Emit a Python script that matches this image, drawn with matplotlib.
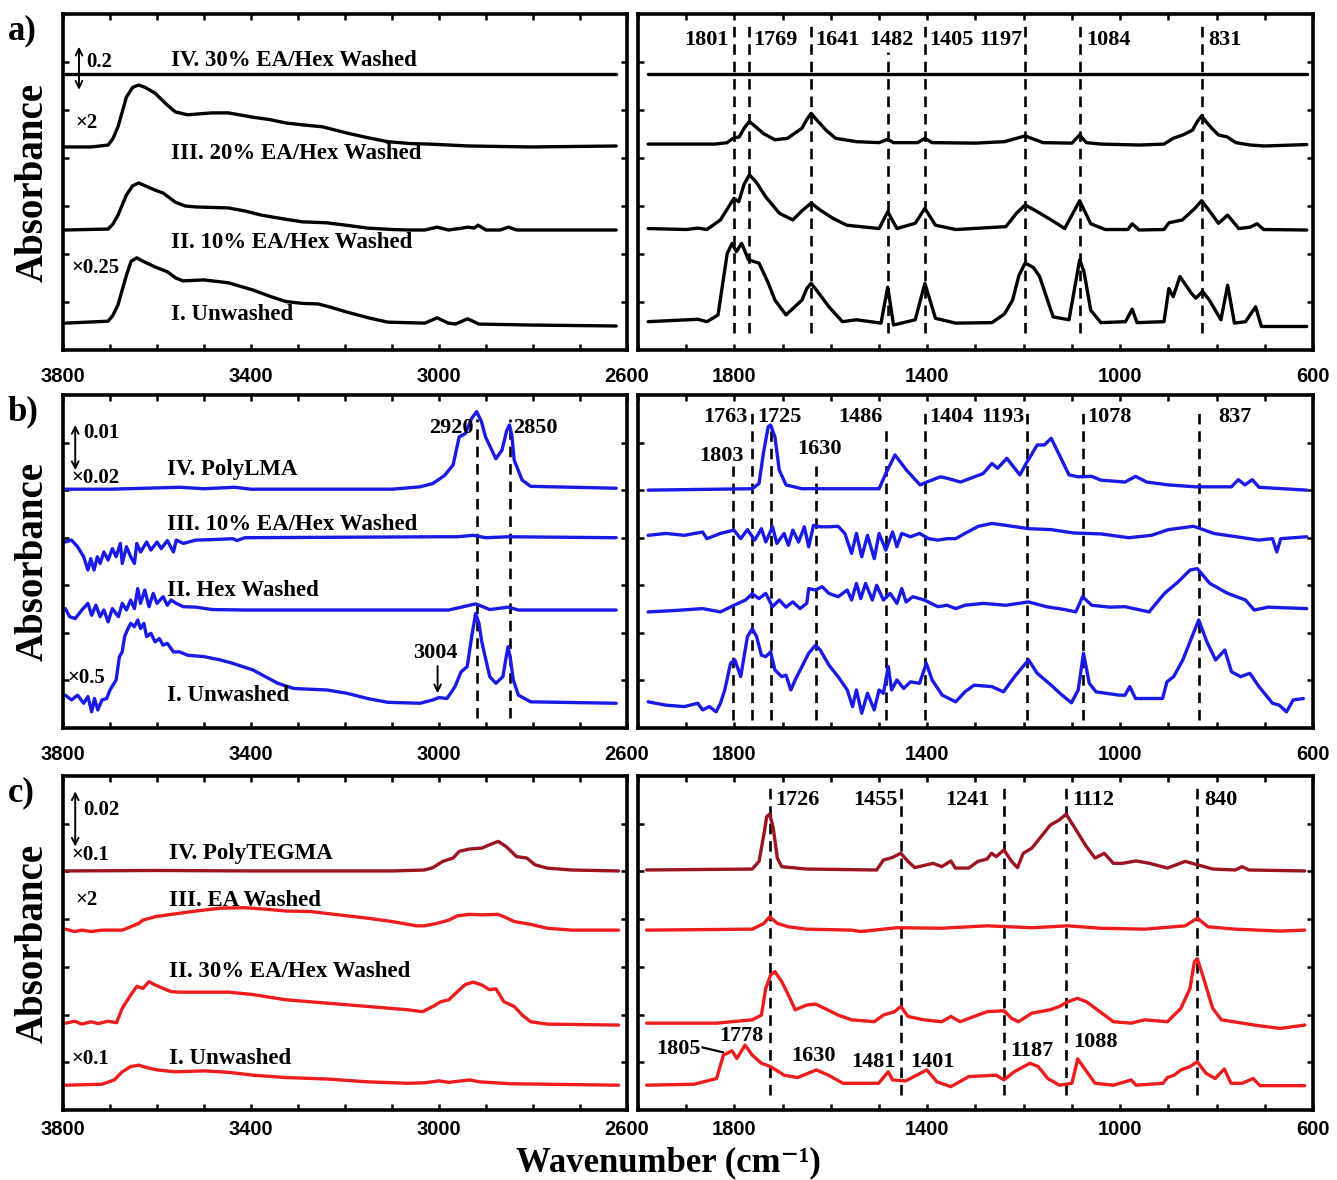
import matplotlib
matplotlib.use("Agg")
import matplotlib.pyplot as plt

plt.rcParams["font.family"] = ["Liberation Serif", "DejaVu Serif"]
plt.rcParams["font.weight"] = "bold"

BLUE = "#1a1ae6"
RED = "#ee1c1c"
DARK_RED = "#9c1420"

# ---------------- data: (wavenumber, stacked absorbance) ----------------
# a) high wavenumber region
a_hi_IV = [(3795, 5.75), (2623, 5.75)]
a_hi_III = [(3795, 4.23), (3740, 4.23), (3704, 4.27), (3694, 4.40), (3683, 4.65), (3665, 5.27), (3652, 5.47),
            (3639, 5.52), (3625, 5.47), (3604, 5.35), (3580, 5.12), (3561, 4.96), (3535, 4.90), (3483, 4.94),
            (3448, 4.94), (3396, 4.85), (3360, 4.80), (3326, 4.73), (3290, 4.69), (3248, 4.65), (3196, 4.52),
            (3150, 4.42), (3109, 4.34), (3060, 4.30), (3022, 4.29), (2935, 4.25), (2804, 4.23), (2623, 4.25)]
a_hi_II = [(3795, 2.50), (3704, 2.52), (3694, 2.62), (3683, 2.81), (3665, 3.23), (3652, 3.42), (3639, 3.48),
           (3625, 3.42), (3604, 3.33), (3587, 3.27), (3561, 3.08), (3540, 3.00), (3517, 2.98), (3448, 2.96),
           (3410, 2.89), (3378, 2.81), (3330, 2.73), (3291, 2.67), (3239, 2.65), (3190, 2.59), (3152, 2.54),
           (3100, 2.51), (3065, 2.50), (3030, 2.50), (3004, 2.56), (2980, 2.50), (2950, 2.54), (2939, 2.56),
           (2925, 2.54), (2917, 2.60), (2900, 2.50), (2870, 2.50), (2852, 2.56), (2835, 2.50), (2623, 2.50)]
a_hi_I = [(3795, 0.56), (3704, 0.60), (3694, 0.72), (3683, 0.94), (3665, 1.56), (3655, 1.85), (3643, 1.92),
          (3630, 1.85), (3604, 1.73), (3578, 1.63), (3560, 1.50), (3545, 1.44), (3500, 1.46), (3448, 1.40),
          (3396, 1.25), (3360, 1.12), (3326, 1.01), (3290, 0.97), (3257, 0.96), (3230, 0.89), (3196, 0.79),
          (3150, 0.67), (3109, 0.58), (3030, 0.56), (3004, 0.67), (2980, 0.56), (2965, 0.54), (2939, 0.65),
          (2915, 0.54), (2804, 0.52), (2623, 0.50)]

# a) low wavenumber region
a_lo_IV = [(1979, 5.75), (613, 5.75)]
a_lo_III = [(1979, 4.29), (1840, 4.29), (1815, 4.32), (1803, 4.41), (1790, 4.44), (1780, 4.62), (1769, 4.76),
            (1757, 4.66), (1740, 4.51), (1716, 4.38), (1690, 4.41), (1660, 4.62), (1650, 4.80), (1641, 4.93),
            (1630, 4.80), (1610, 4.58), (1590, 4.41), (1547, 4.34), (1500, 4.32), (1482, 4.39), (1470, 4.32),
            (1420, 4.32), (1405, 4.41), (1390, 4.32), (1300, 4.31), (1240, 4.34), (1197, 4.46), (1160, 4.32),
            (1100, 4.31), (1084, 4.48), (1070, 4.32), (1040, 4.29), (960, 4.27), (909, 4.29), (890, 4.41),
            (870, 4.48), (850, 4.58), (840, 4.76), (831, 4.88), (822, 4.76), (810, 4.62), (796, 4.48),
            (778, 4.44), (760, 4.32), (730, 4.27), (700, 4.25), (613, 4.28)]
a_lo_II = [(1979, 2.53), (1900, 2.51), (1876, 2.54), (1857, 2.51), (1829, 2.71), (1801, 3.16), (1791, 3.09),
           (1780, 3.45), (1769, 3.65), (1755, 3.50), (1735, 3.19), (1707, 2.85), (1679, 2.71), (1660, 2.90),
           (1641, 3.06), (1620, 2.90), (1595, 2.74), (1567, 2.60), (1500, 2.53), (1482, 2.88), (1463, 2.53),
           (1425, 2.64), (1405, 2.95), (1383, 2.60), (1341, 2.51), (1237, 2.57), (1215, 2.85), (1197, 3.02),
           (1175, 2.90), (1143, 2.71), (1115, 2.53), (1084, 3.11), (1061, 2.63), (1031, 2.51), (984, 2.51),
           (975, 2.63), (961, 2.50), (909, 2.51), (899, 2.65), (871, 2.71), (845, 2.95), (831, 3.11),
           (815, 2.90), (796, 2.64), (777, 2.81), (754, 2.53), (730, 2.56), (716, 2.63), (702, 2.51),
           (613, 2.50)]
a_lo_I = [(1979, 0.59), (1876, 0.64), (1857, 0.59), (1834, 0.73), (1815, 2.01), (1805, 2.22), (1796, 2.05),
          (1785, 2.22), (1771, 1.88), (1749, 1.81), (1730, 1.40), (1716, 1.04), (1693, 0.73), (1660, 1.04),
          (1650, 1.28), (1641, 1.39), (1630, 1.25), (1604, 0.90), (1576, 0.59), (1547, 0.63), (1496, 0.56),
          (1482, 1.31), (1470, 0.52), (1425, 0.63), (1405, 1.39), (1383, 0.66), (1341, 0.56), (1266, 0.57),
          (1240, 0.75), (1223, 1.04), (1210, 1.55), (1197, 1.81), (1180, 1.72), (1167, 1.53), (1139, 0.69),
          (1106, 0.63), (1084, 1.88), (1075, 1.63), (1061, 0.83), (1040, 0.57), (989, 0.59), (975, 0.85),
          (965, 0.57), (909, 0.59), (899, 1.28), (890, 1.11), (876, 1.53), (852, 1.18), (843, 1.08),
          (829, 1.22), (815, 1.04), (791, 0.63), (777, 1.35), (763, 0.56), (740, 0.59), (719, 0.90),
          (707, 0.49), (613, 0.49)]

# b) high wavenumber region
b_hi_IV = [(3795, 5.02), (3700, 5.02), (3552, 5.06), (3500, 5.03), (3435, 5.06), (3400, 5.02), (3100, 5.02),
           (3040, 5.07), (3013, 5.14), (2988, 5.31), (2970, 5.53), (2957, 6.12), (2944, 6.19), (2931, 6.50),
           (2920, 6.65), (2910, 6.45), (2901, 6.12), (2879, 5.66), (2866, 5.84), (2856, 6.25), (2850, 6.37),
           (2845, 6.15), (2840, 5.63), (2823, 5.21), (2805, 5.08), (2623, 5.04)]
b_hi_III = [(3795, 3.91), (3782, 3.95), (3769, 3.81), (3756, 3.60), (3747, 3.32), (3741, 3.56), (3734, 3.32),
            (3727, 3.60), (3721, 3.46), (3713, 3.70), (3704, 3.53), (3695, 3.77), (3687, 3.60), (3678, 3.88),
            (3674, 3.46), (3665, 3.81), (3656, 3.60), (3648, 3.46), (3643, 3.88), (3635, 3.70), (3622, 3.91),
            (3613, 3.74), (3600, 3.91), (3591, 3.77), (3578, 3.94), (3565, 3.70), (3559, 3.95), (3544, 3.88),
            (3517, 3.95), (3483, 3.96), (3439, 3.98), (3430, 3.94), (3413, 4.00), (3000, 4.02), (2960, 4.02),
            (2927, 4.05), (2900, 4.00), (2853, 4.02), (2623, 4.00)]
b_hi_II = [(3795, 2.51), (3786, 2.34), (3774, 2.30), (3760, 2.48), (3747, 2.62), (3739, 2.37), (3730, 2.58),
           (3721, 2.34), (3713, 2.48), (3704, 2.23), (3695, 2.51), (3682, 2.34), (3674, 2.62), (3665, 2.48),
           (3656, 2.69), (3648, 2.51), (3641, 2.93), (3635, 2.62), (3626, 2.90), (3617, 2.55), (3608, 2.83),
           (3600, 2.62), (3587, 2.76), (3578, 2.58), (3570, 2.69), (3559, 2.62), (3544, 2.55), (3517, 2.54),
           (3483, 2.49), (3413, 2.48), (2979, 2.48), (2922, 2.61), (2892, 2.49), (2853, 2.54), (2831, 2.48),
           (2623, 2.48)]
b_hi_I = [(3795, 0.69), (3782, 0.59), (3769, 0.69), (3756, 0.52), (3747, 0.66), (3739, 0.34), (3733, 0.62),
          (3726, 0.38), (3717, 0.59), (3707, 0.62), (3700, 0.80), (3687, 1.01), (3680, 1.50), (3674, 1.60),
          (3669, 1.92), (3663, 2.06), (3656, 2.20), (3648, 2.13), (3641, 2.27), (3635, 2.09), (3628, 2.20),
          (3622, 1.92), (3613, 1.99), (3604, 1.81), (3595, 1.88), (3587, 1.74), (3578, 1.78), (3565, 1.60),
          (3552, 1.60), (3535, 1.53), (3500, 1.50), (3465, 1.43), (3439, 1.36), (3396, 1.22), (3343, 0.94),
          (3309, 0.83), (3239, 0.80), (3196, 0.73), (3152, 0.62), (3109, 0.54), (3040, 0.52), (3013, 0.59),
          (3000, 0.64), (2983, 0.62), (2966, 0.87), (2953, 1.18), (2940, 1.29), (2930, 1.95), (2922, 2.41),
          (2915, 2.20), (2909, 1.81), (2892, 1.08), (2879, 0.94), (2864, 1.08), (2857, 1.50), (2853, 1.71),
          (2848, 1.45), (2842, 1.01), (2831, 0.69), (2805, 0.55), (2623, 0.52)]

# b) low wavenumber region
b_lo_IV = [(1979, 5.00), (1763, 5.03), (1749, 5.14), (1740, 5.77), (1730, 6.33), (1725, 6.37), (1716, 6.12),
           (1707, 5.42), (1693, 5.11), (1660, 5.03), (1500, 5.03), (1486, 5.35), (1467, 5.74), (1443, 5.42),
           (1415, 5.11), (1401, 5.17), (1373, 5.28), (1359, 5.25), (1331, 5.17), (1284, 5.35), (1266, 5.56),
           (1254, 5.46), (1235, 5.67), (1208, 5.32), (1195, 5.56), (1172, 5.95), (1157, 5.95), (1143, 6.09),
           (1129, 5.80), (1106, 5.32), (1087, 5.28), (1059, 5.29), (1040, 5.21), (990, 5.17), (968, 5.29),
           (945, 5.17), (900, 5.11), (844, 5.07), (769, 5.07), (755, 5.22), (741, 5.11), (726, 5.22),
           (712, 5.06), (613, 5.00)]
b_lo_III = [(1979, 4.05), (1942, 4.09), (1904, 4.05), (1866, 4.12), (1857, 3.98), (1829, 4.09), (1801, 4.16),
            (1787, 3.98), (1773, 4.17), (1758, 3.95), (1744, 4.19), (1735, 3.91), (1721, 4.23), (1712, 3.88),
            (1697, 4.09), (1688, 3.84), (1679, 4.16), (1667, 3.91), (1655, 4.23), (1646, 3.81), (1636, 4.26),
            (1622, 4.23), (1604, 4.23), (1585, 4.24), (1571, 4.09), (1557, 3.67), (1547, 4.09), (1536, 3.60),
            (1524, 4.05), (1510, 3.56), (1500, 4.09), (1486, 3.74), (1472, 4.12), (1463, 3.81), (1453, 4.09),
            (1435, 4.02), (1416, 4.09), (1397, 3.98), (1378, 3.95), (1359, 3.98), (1341, 3.98), (1322, 4.09),
            (1294, 4.24), (1266, 4.30), (1237, 4.26), (1190, 4.19), (1143, 4.17), (1097, 4.10), (1040, 4.08),
            (982, 4.00), (935, 4.05), (900, 4.17), (848, 4.24), (825, 4.16), (806, 4.09), (759, 4.02),
            (712, 3.95), (684, 3.98), (675, 3.70), (667, 3.98), (613, 4.02)]
b_lo_II = [(1979, 2.44), (1923, 2.47), (1866, 2.51), (1829, 2.44), (1801, 2.58), (1777, 2.69), (1763, 2.82),
           (1749, 2.72), (1735, 2.83), (1721, 2.55), (1707, 2.69), (1693, 2.54), (1679, 2.65), (1664, 2.51),
           (1650, 2.62), (1646, 2.93), (1632, 2.90), (1618, 2.97), (1604, 2.83), (1585, 2.76), (1566, 2.90),
           (1557, 2.69), (1547, 3.04), (1538, 2.72), (1528, 3.04), (1514, 2.69), (1505, 3.00), (1491, 2.69),
           (1477, 2.83), (1463, 2.62), (1453, 2.93), (1444, 2.65), (1430, 2.76), (1406, 2.69), (1378, 2.55),
           (1359, 2.58), (1341, 2.51), (1322, 2.58), (1284, 2.62), (1237, 2.58), (1190, 2.65), (1153, 2.55),
           (1115, 2.49), (1092, 2.44), (1078, 2.76), (1059, 2.58), (1021, 2.54), (990, 2.55), (940, 2.44),
           (908, 2.83), (880, 3.07), (855, 3.32), (840, 3.35), (814, 3.04), (777, 2.83), (740, 2.69),
           (722, 2.48), (693, 2.54), (613, 2.51)]
b_lo_I = [(1979, 0.55), (1942, 0.48), (1904, 0.45), (1876, 0.52), (1866, 0.38), (1852, 0.45), (1838, 0.34),
          (1829, 0.52), (1820, 0.80), (1808, 1.36), (1799, 1.43), (1787, 1.08), (1773, 1.92), (1763, 2.09),
          (1754, 1.92), (1744, 1.53), (1735, 1.50), (1725, 1.60), (1716, 1.22), (1702, 1.08), (1693, 1.11),
          (1683, 0.80), (1674, 1.01), (1660, 1.29), (1646, 1.57), (1632, 1.74), (1622, 1.64), (1604, 1.32),
          (1585, 1.08), (1566, 0.80), (1555, 0.45), (1547, 0.80), (1536, 0.31), (1524, 0.73), (1510, 0.38),
          (1500, 0.80), (1491, 0.73), (1481, 1.29), (1474, 0.80), (1463, 1.01), (1449, 0.83), (1435, 0.97),
          (1416, 0.94), (1402, 1.36), (1390, 1.01), (1369, 0.69), (1341, 0.55), (1322, 0.76), (1303, 0.90),
          (1266, 0.87), (1242, 0.76), (1219, 1.08), (1190, 1.43), (1172, 1.15), (1143, 0.90), (1125, 0.73),
          (1101, 0.53), (1087, 0.80), (1076, 1.57), (1064, 0.94), (1050, 0.76), (1002, 0.69), (990, 0.69),
          (980, 0.87), (968, 0.62), (912, 0.62), (903, 0.97), (889, 1.08), (870, 1.43), (851, 1.92),
          (837, 2.27), (820, 1.81), (802, 1.43), (783, 1.64), (769, 1.18), (750, 1.08), (731, 1.15),
          (712, 0.87), (684, 0.52), (670, 0.48), (655, 0.34), (641, 0.59), (620, 0.62)]

# c) high wavenumber region
c_hi_IV = [(3795, 5.01), (3600, 5.02), (3400, 5.01), (3100, 5.01), (3031, 5.03), (3013, 5.08), (2992, 5.21),
           (2970, 5.28), (2957, 5.42), (2935, 5.47), (2909, 5.49), (2892, 5.56), (2874, 5.63), (2857, 5.52),
           (2835, 5.31), (2813, 5.28), (2796, 5.14), (2770, 5.07), (2718, 5.03), (2618, 5.01)]
c_hi_III = [(3795, 3.79), (3775, 3.74), (3760, 3.77), (3740, 3.74), (3717, 3.77), (3674, 3.77), (3656, 3.84),
            (3639, 3.91), (3630, 3.98), (3604, 4.05), (3570, 4.10), (3517, 4.17), (3465, 4.23), (3413, 4.24),
            (3370, 4.21), (3326, 4.17), (3274, 4.16), (3222, 4.10), (3152, 4.02), (3100, 3.95), (3048, 3.86),
            (3031, 3.86), (3005, 3.91), (2979, 3.98), (2961, 4.07), (2935, 4.10), (2909, 4.09), (2874, 4.10),
            (2857, 4.03), (2840, 3.95), (2805, 3.89), (2770, 3.81), (2718, 3.77), (2618, 3.77)]
c_hi_II = [(3795, 1.82), (3775, 1.86), (3760, 1.80), (3740, 1.85), (3725, 1.81), (3705, 1.86), (3686, 1.83),
           (3674, 2.13), (3656, 2.41), (3643, 2.59), (3630, 2.55), (3617, 2.69), (3604, 2.62), (3587, 2.55),
           (3570, 2.48), (3552, 2.47), (3500, 2.47), (3448, 2.47), (3396, 2.42), (3326, 2.31), (3239, 2.24),
           (3152, 2.17), (3066, 2.10), (3035, 2.06), (3013, 2.17), (2996, 2.27), (2979, 2.31), (2961, 2.48),
           (2944, 2.63), (2927, 2.68), (2909, 2.62), (2892, 2.52), (2879, 2.54), (2862, 2.27), (2840, 2.17),
           (2823, 1.99), (2805, 1.85), (2770, 1.80), (2618, 1.78)]
c_hi_I = [(3795, 0.52), (3717, 0.54), (3691, 0.63), (3674, 0.80), (3656, 0.91), (3639, 0.94), (3622, 0.89),
          (3600, 0.84), (3561, 0.80), (3500, 0.82), (3448, 0.79), (3396, 0.73), (3326, 0.68), (3239, 0.65),
          (3152, 0.59), (3066, 0.56), (3031, 0.57), (3000, 0.61), (2979, 0.58), (2935, 0.63), (2913, 0.59),
          (2848, 0.55), (2618, 0.52)]

# c) low wavenumber region
c_lo_IV = [(1982, 5.03), (1763, 5.05), (1749, 5.21), (1739, 5.77), (1733, 6.15), (1727, 6.20), (1720, 5.94),
           (1711, 5.28), (1702, 5.10), (1650, 5.05), (1505, 5.03), (1491, 5.24), (1473, 5.29), (1455, 5.38),
           (1440, 5.21), (1426, 5.08), (1388, 5.17), (1370, 5.10), (1351, 5.22), (1342, 5.07), (1314, 5.07),
           (1295, 5.21), (1276, 5.26), (1267, 5.38), (1257, 5.31), (1241, 5.45), (1225, 5.21), (1213, 5.08),
           (1201, 5.38), (1183, 5.49), (1164, 5.73), (1145, 5.97), (1126, 6.08), (1112, 6.20), (1089, 5.83),
           (1070, 5.52), (1052, 5.28), (1033, 5.38), (1014, 5.17), (995, 5.17), (967, 5.22), (939, 5.17),
           (902, 5.07), (865, 5.21), (840, 5.14), (808, 5.05), (761, 5.03), (747, 5.10), (733, 5.03),
           (617, 5.01)]
c_lo_III = [(1982, 3.77), (1763, 3.79), (1739, 3.91), (1727, 4.05), (1711, 3.91), (1688, 3.84), (1650, 3.79),
            (1557, 3.77), (1538, 3.74), (1463, 3.82), (1370, 3.81), (1276, 3.86), (1183, 3.82), (1108, 3.86),
            (1042, 3.81), (949, 3.79), (865, 3.86), (840, 4.02), (818, 3.84), (761, 3.79), (668, 3.75),
            (617, 3.77)]
c_lo_II = [(1982, 1.82), (1837, 1.82), (1763, 1.89), (1744, 1.99), (1735, 2.55), (1725, 2.83), (1716, 2.90),
           (1702, 2.69), (1688, 2.41), (1674, 2.10), (1650, 2.20), (1632, 2.22), (1613, 2.13), (1585, 1.99),
           (1557, 1.89), (1510, 1.85), (1491, 1.99), (1468, 2.06), (1455, 2.17), (1440, 1.96), (1407, 1.89),
           (1370, 1.85), (1351, 1.96), (1332, 1.85), (1295, 1.99), (1276, 2.06), (1241, 2.08), (1225, 1.92),
           (1211, 1.85), (1183, 2.03), (1145, 2.10), (1126, 2.17), (1108, 2.27), (1089, 2.34), (1070, 2.27),
           (1042, 2.06), (1014, 1.85), (977, 1.82), (949, 1.89), (902, 1.85), (874, 2.13), (855, 2.55),
           (846, 3.11), (840, 3.17), (829, 2.83), (808, 2.13), (790, 1.89), (715, 1.77), (668, 1.71),
           (617, 1.78)]
c_lo_I = [(1982, 0.52), (1884, 0.54), (1837, 0.66), (1823, 1.15), (1805, 1.24), (1795, 1.08), (1778, 1.36),
          (1763, 1.15), (1744, 0.98), (1725, 0.91), (1697, 0.73), (1669, 0.68), (1630, 0.84), (1605, 0.73),
          (1575, 0.56), (1501, 0.56), (1481, 0.80), (1472, 0.63), (1445, 0.61), (1401, 0.84), (1380, 0.59),
          (1351, 0.49), (1314, 0.70), (1276, 0.72), (1257, 0.73), (1241, 0.63), (1220, 0.80), (1187, 0.98),
          (1170, 0.91), (1150, 0.66), (1126, 0.52), (1100, 0.56), (1088, 1.07), (1074, 0.87), (1052, 0.56),
          (1014, 0.52), (977, 0.63), (967, 0.52), (911, 0.56), (902, 0.68), (888, 0.73), (874, 0.84),
          (855, 0.91), (840, 1.01), (822, 0.77), (803, 0.66), (784, 0.86), (770, 0.56), (747, 0.56),
          (724, 0.66), (710, 0.51), (617, 0.51)]

# dashed reference lines: (wavenumber, top)
a_lines = [(1801, 6.85), (1769, 6.85), (1641, 6.85), (1482, 6.2), (1405, 6.85), (1197, 6.85), (1084, 6.85), (831, 6.85)]
b_hi_lines = [(2920, 6.5), (2850, 6.5)]
b_lo_lines = [(1803, 5.5), (1763, 6.65), (1725, 6.4), (1630, 5.5), (1486, 6.3), (1404, 6.65), (1193, 6.65),
              (1078, 6.65), (837, 6.65)]
c_lines = [(1726, 6.85), (1455, 6.85), (1241, 6.85), (1112, 6.85), (840, 6.85)]

# peak labels: (text, x, y, ha)
a_peak_labels = [("1801", 1812, 6.46, "right"), ("1769", 1760, 6.46, "left"), ("1641", 1633, 6.46, "left"),
                 ("1482", 1521, 6.46, "left"), ("1405", 1395, 6.46, "left"), ("1197", 1203, 6.46, "right"),
                 ("1084", 1070, 6.46, "left"), ("831", 818, 6.46, "left")]
b_hi_peak_labels = [("2920", 2926, 6.30, "right"), ("2850", 2842, 6.30, "left"), ("3004", 3007, 1.57, "center")]
b_lo_peak_labels = [("1763", 1772, 6.54, "right"), ("1725", 1752, 6.54, "left"), ("1486", 1493, 6.54, "right"),
                    ("1404", 1395, 6.54, "left"), ("1193", 1199, 6.54, "right"), ("1078", 1068, 6.54, "left"),
                    ("837", 797, 6.54, "left"), ("1803", 1826, 5.72, "center"), ("1630", 1624, 5.86, "center")]
c_peak_labels = [("1726", 1716, 6.50, "left"), ("1455", 1462, 6.50, "right"), ("1241", 1271, 6.50, "right"),
                 ("1112", 1100, 6.50, "left"), ("840", 825, 6.50, "left"),
                 ("1805", 1870, 1.28, "right"), ("1778", 1786, 1.55, "center"), ("1630", 1636, 1.13, "center"),
                 ("1481", 1512, 1.01, "center"), ("1401", 1390, 1.01, "center"), ("1187", 1183, 1.24, "center"),
                 ("1088", 1052, 1.42, "center")]

# trace names: (text, x, y)
a_names = [("IV. 30% EA/Hex Washed", 3570, 6.04), ("III. 20% EA/Hex Washed", 3570, 4.10),
           ("II. 10% EA/Hex Washed", 3570, 2.23), ("I. Unwashed", 3570, 0.73)]
b_names = [("IV. PolyLMA", 3578, 5.44), ("III. 10% EA/Hex Washed", 3578, 4.28),
           ("II. Hex Washed", 3578, 2.90), ("I. Unwashed", 3578, 0.69)]
c_names = [("IV. PolyTEGMA", 3574, 5.38), ("III. EA Washed", 3574, 4.40),
           ("II. 30% EA/Hex Washed", 3574, 2.90), ("I. Unwashed", 3574, 1.07)]
# multipliers and scale-bar values: (text, x, y)
a_factors = [("×2", 3773, 4.73), ("×0.25", 3781, 1.71), ("0.2", 3750, 6.0)]
b_factors = [("×0.02", 3783, 5.25), ("×0.5", 3790, 1.05), ("0.01", 3757, 6.2)]
c_factors = [("×0.1", 3783, 5.35), ("×2", 3774, 4.40), ("×0.1", 3783, 1.07), ("0.02", 3757, 6.29)]

# scale bars: (x, y_top, y_bottom)
a_bar = (3766, 6.32, 5.42)
b_bar = (3774, 6.37, 5.42)
c_bar = (3774, 6.68, 5.52)

hi_ticks = list(range(2600, 3801, 100))
hi_labels = [3800, 3400, 3000, 2600]
lo_ticks = list(range(600, 2001, 100))
lo_labels = [1800, 1400, 1000, 600]

# ---------------- figure ----------------
fig = plt.figure(figsize=(13.37, 11.8), dpi=100)
W, H = 1337.0, 1180.0
rows = [(14, 350), (395, 728), (776, 1110)]


def make_axes(x0, x1, y0, y1):
    return fig.add_axes([x0 / W, 1 - y1 / H, (x1 - x0) / W, (y1 - y0) / H])


def style(ax, xlim, ticks, labelled, pad):
    ax.set_xlim(*xlim)
    ax.set_ylim(0, 7)
    ax.set_xticks(ticks)
    ax.set_xticklabels([str(t) if t in labelled else "" for t in ticks],
                       fontfamily="Liberation Sans", fontweight="bold", fontsize=14.5)
    ax.set_yticks(range(1, 7))
    ax.set_yticklabels([])
    ax.tick_params(direction="in", top=True, right=True, length=4, width=1.8, pad=pad)
    for s in ax.spines.values():
        s.set_linewidth(2.6)


def draw(ax, pts, color):
    ax.plot([p[0] for p in pts], [p[1] for p in pts], color=color, lw=2.4,
            solid_joinstyle="round", solid_capstyle="round")


def dashed(ax, lines, bottom):
    for x, top in lines:
        ax.plot([x, x], [bottom, top], color="black", lw=1.9, ls=(0, (4, 2.6)))


def peak_text(ax, labels):
    for s, x, y, ha in labels:
        ax.text(x, y, s, ha=ha, va="center", fontsize=16, fontweight="bold")


def names(ax, items, size):
    for s, x, y in items:
        ax.text(x, y, s, ha="left", va="center", fontsize=size, fontweight="bold")


def bar(ax, b):
    x, y0, y1 = b
    ax.annotate("", xy=(x, y0), xytext=(x, y1),
                arrowprops=dict(arrowstyle="<->", lw=1.4, color="black", mutation_scale=12,
                                shrinkA=0, shrinkB=0))


axes = []
for (y0, y1) in rows:
    axes.append((make_axes(63, 627, y0, y1), make_axes(638, 1313, y0, y1)))

for i, (hi, lo) in enumerate(axes):
    pad = 12 if i < 2 else 7
    style(hi, (3800, 2600), hi_ticks, hi_labels, pad)
    style(lo, (2000, 600), lo_ticks, lo_labels, pad)

# row a
ah, al = axes[0]
dashed(al, a_lines, 0.35)
for t in (a_hi_IV, a_hi_III, a_hi_II, a_hi_I):
    draw(ah, t, "black")
for t in (a_lo_IV, a_lo_III, a_lo_II, a_lo_I):
    draw(al, t, "black")
names(ah, a_names, 16.5)
names(ah, a_factors, 15)
bar(ah, a_bar)
peak_text(al, a_peak_labels)

# row b
bh, bl = axes[1]
dashed(bh, b_hi_lines, 0.2)
dashed(bl, b_lo_lines, 0.17)
for t in (b_hi_IV, b_hi_III, b_hi_II, b_hi_I):
    draw(bh, t, BLUE)
for t in (b_lo_IV, b_lo_III, b_lo_II, b_lo_I):
    draw(bl, t, BLUE)
names(bh, b_names, 16.5)
names(bh, b_factors, 15)
bar(bh, b_bar)
peak_text(bh, b_hi_peak_labels)
peak_text(bl, b_lo_peak_labels)
bh.annotate("", xy=(3003, 0.73), xytext=(3003, 1.30),
            arrowprops=dict(arrowstyle="->", lw=1.4, color="black", mutation_scale=12, shrinkA=0, shrinkB=0))

# row c
ch, cl = axes[2]
dashed(cl, c_lines, 0.31)
draw(ch, c_hi_IV, DARK_RED)
for t in (c_hi_III, c_hi_II, c_hi_I):
    draw(ch, t, RED)
draw(cl, c_lo_IV, DARK_RED)
for t in (c_lo_III, c_lo_II, c_lo_I):
    draw(cl, t, RED)
names(ch, c_names, 16.5)
names(ch, c_factors, 15)
bar(ch, c_bar)
peak_text(cl, c_peak_labels)
cl.plot([1866, 1824], [1.31, 1.21], color="black", lw=1.6)

# panel letters and axis titles
for letter, (y0, y1) in zip(["a)", "b)", "c)"], rows):
    fig.text(8 / W, 1 - (y0 + 17) / H, letter, fontsize=25, fontweight="bold", ha="left", va="center")
    fig.text(33 / W, 1 - (y0 + y1) / 2 / H, "Absorbance", rotation=90, fontsize=28,
             fontweight="bold", ha="center", va="center")

fig.text(668 / W, 1 - 1179 / H, "Wavenumber (cm⁻¹)", fontsize=25, fontweight="bold",
         ha="center", va="bottom")

fig.savefig("out.png", dpi=100)
